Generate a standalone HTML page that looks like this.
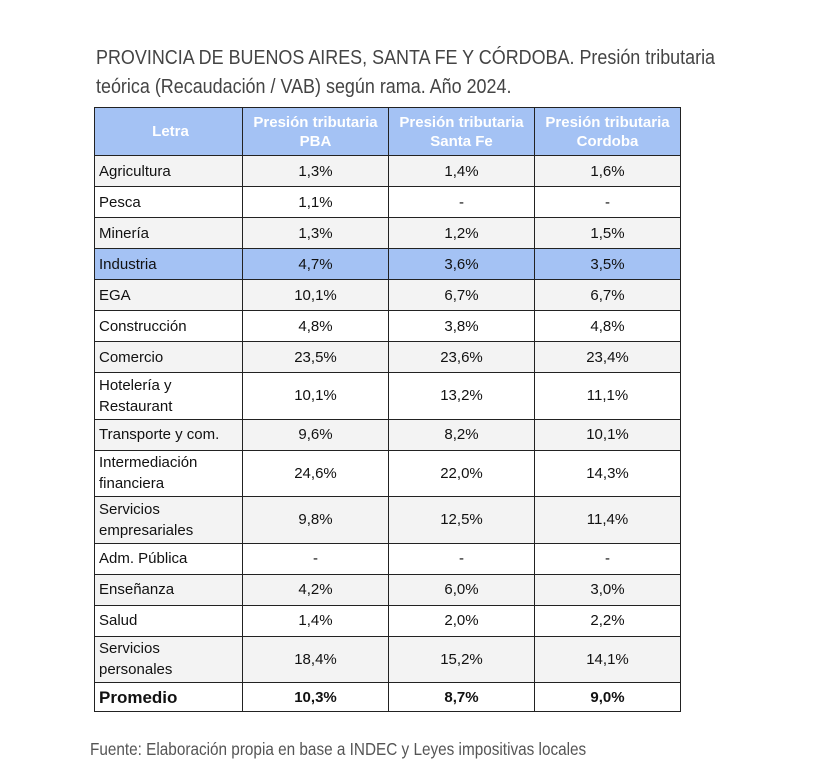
<!DOCTYPE html>
<html><head><meta charset="utf-8"><style>
body{margin:0;background:#fff;width:826px;height:768px;position:relative;overflow:hidden;font-family:"Liberation Sans",sans-serif}
.t{position:absolute;left:96px;color:#444;font-size:20.5px;transform-origin:0 0;transform:scaleX(0.875);white-space:nowrap}
table{position:absolute;left:94px;top:107px;border-collapse:collapse;width:587px}
td{border:1.5px solid #222;font-size:15px;color:#111;text-align:center;padding:0;line-height:21px}
td:first-child{text-align:left;padding-left:4px;width:143px}
td{width:145px}
tr.h td{background:#a4c2f4;color:#fff;font-weight:bold;text-align:center;height:47px;line-height:19px}
tr.s td{height:30px}
tr.d td{height:45.5px}
tr.g td{background:#f3f3f3}
tr.b td{background:#a4c2f4}
tr.p td{font-weight:bold;height:28px}
tr.p td:first-child{font-size:17px}
</style></head><body>
<div class="t" style="top:46px">PROVINCIA DE BUENOS AIRES, SANTA FE Y CÓRDOBA. Presión tributaria</div>
<div class="t" style="top:75px">teórica (Recaudación / VAB) según rama. Año 2024.</div>
<table>
<tr class="h"><td>Letra</td><td>Presión tributaria<br>PBA</td><td>Presión tributaria<br>Santa Fe</td><td>Presión tributaria<br>Cordoba</td></tr>
<tr class="s g"><td>Agricultura</td><td>1,3%</td><td>1,4%</td><td>1,6%</td></tr>
<tr class="s"><td>Pesca</td><td>1,1%</td><td>-</td><td>-</td></tr>
<tr class="s g"><td>Minería</td><td>1,3%</td><td>1,2%</td><td>1,5%</td></tr>
<tr class="s b"><td>Industria</td><td>4,7%</td><td>3,6%</td><td>3,5%</td></tr>
<tr class="s g"><td>EGA</td><td>10,1%</td><td>6,7%</td><td>6,7%</td></tr>
<tr class="s"><td>Construcción</td><td>4,8%</td><td>3,8%</td><td>4,8%</td></tr>
<tr class="s g"><td>Comercio</td><td>23,5%</td><td>23,6%</td><td>23,4%</td></tr>
<tr class="d"><td>Hotelería y<br>Restaurant</td><td>10,1%</td><td>13,2%</td><td>11,1%</td></tr>
<tr class="s g"><td>Transporte y com.</td><td>9,6%</td><td>8,2%</td><td>10,1%</td></tr>
<tr class="d"><td>Intermediación<br>financiera</td><td>24,6%</td><td>22,0%</td><td>14,3%</td></tr>
<tr class="d g"><td>Servicios<br>empresariales</td><td>9,8%</td><td>12,5%</td><td>11,4%</td></tr>
<tr class="s"><td>Adm. Pública</td><td>-</td><td>-</td><td>-</td></tr>
<tr class="s g"><td>Enseñanza</td><td>4,2%</td><td>6,0%</td><td>3,0%</td></tr>
<tr class="s"><td>Salud</td><td>1,4%</td><td>2,0%</td><td>2,2%</td></tr>
<tr class="d g"><td>Servicios<br>personales</td><td>18,4%</td><td>15,2%</td><td>14,1%</td></tr>
<tr class="p"><td>Promedio</td><td>10,3%</td><td>8,7%</td><td>9,0%</td></tr>
</table>
<div class="t" style="top:739px;left:90px;font-size:17.5px;color:#555">Fuente: Elaboración propia en base a INDEC y Leyes impositivas locales</div>
</body></html>
